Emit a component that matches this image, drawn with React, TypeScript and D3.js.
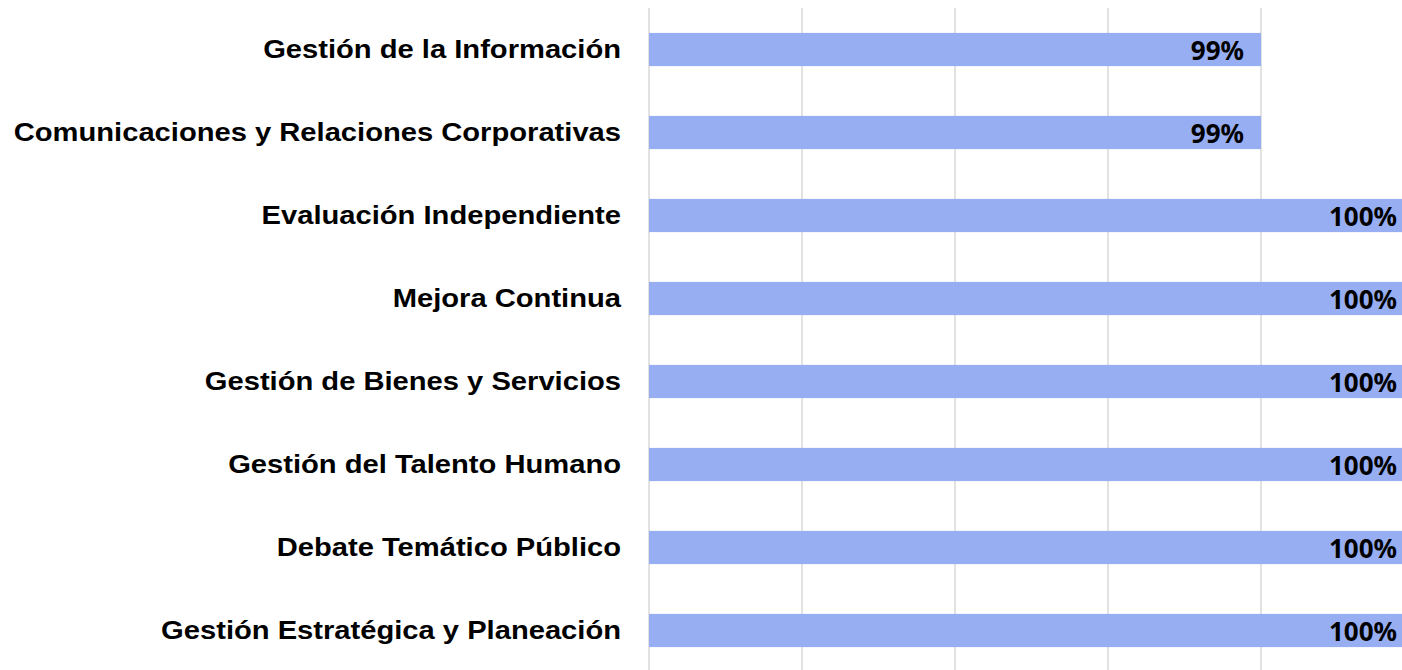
import * as d3 from "d3";
import { useEffect, useRef } from "react";

const categories = [
  "Gestión de la Información",
  "Comunicaciones y Relaciones Corporativas",
  "Evaluación Independiente",
  "Mejora Continua",
  "Gestión de Bienes y Servicios",
  "Gestión del Talento Humano",
  "Debate Temático Público",
  "Gestión Estratégica y Planeación",
];
const values = [0.99, 0.99, 1, 1, 1, 1, 1, 1];
const ticks = [0.95, 0.96, 0.97, 0.98, 0.99, 1];

export default function App() {
  const ref = useRef<SVGSVGElement>(null);

  useEffect(() => {
    document.body.style.margin = "0";
    const svgX = 1402;
    const svgY = 670;

    const svg = d3.select(ref.current);
    svg.selectAll("*").remove();

    const x = d3.scaleLinear().domain([0.95, 1]).range([649, 1414]);
    const y = d3
      .scaleBand()
      .domain(categories)
      .range([8, 672])
      .paddingInner(0.6)
      .paddingOuter(0.3);

    // grid
    svg
      .append("g")
      .selectAll("line")
      .data(ticks)
      .join("line")
      .attr("x1", (d) => x(d))
      .attr("x2", (d) => x(d))
      .attr("y1", 8)
      .attr("y2", svgY)
      .attr("stroke", "#d9d9d9")
      .attr("stroke-width", 1.5);

    const data = categories.map((c, i) => ({ cat: c, val: values[i] }));

    // bars
    svg
      .append("g")
      .selectAll("rect")
      .data(data)
      .join("rect")
      .attr("x", x(0.95))
      .attr("y", (d) => y(d.cat)!)
      .attr("width", (d) => x(d.val) - x(0.95))
      .attr("height", y.bandwidth())
      .attr("fill", "#97aef3");

    // category labels (slightly stretched, like the original)
    svg
      .append("g")
      .selectAll("text")
      .data(data)
      .join("text")
      .attr(
        "transform",
        (d) => `translate(621,${y(d.cat)! + y.bandwidth() / 2 + 8.5}) scale(1.1,1)`
      )
      .attr("text-anchor", "end")
      .attr("font-family", "'Liberation Sans', Arial, sans-serif")
      .attr("font-weight", "bold")
      .attr("font-size", 26.5)
      .attr("fill", "#000")
      .text((d) => d.cat);

    // value labels
    svg
      .append("g")
      .selectAll("text")
      .data(data)
      .join("text")
      .attr("x", (d) => x(d.val) - 17)
      .attr("y", (d) => y(d.cat)! + y.bandwidth() / 2 + 10)
      .attr("text-anchor", "end")
      .attr("font-family", "'Noto Sans', sans-serif")
      .attr("font-weight", "bold")
      .attr("font-size", 26)
      .attr("fill", "#000")
      .text((d) => d3.format(".0%")(d.val));

    svg.attr("width", svgX).attr("height", svgY);
  }, []);

  return (
    <svg
      ref={ref}
      width={1402}
      height={670}
      style={{ display: "block", background: "#fff" }}
    />
  );
}
